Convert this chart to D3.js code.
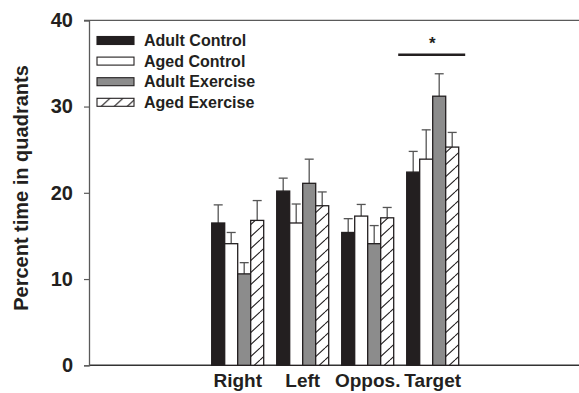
<!DOCTYPE html>
<html>
<head>
<meta charset="utf-8">
<script src="https://cdn.jsdelivr.net/npm/d3@7"></script>
<style>
  html, body { margin: 0; padding: 0; background: #fff; }
  svg { display: block; font-family: "Liberation Sans", Arial, sans-serif; }
</style>
</head>
<body>
<svg id="chart" width="579" height="393"></svg>
<script>
// Time spent in each quadrant, mean and upper error (SEM) per group
const quadrants = ["Right", "Left", "Oppos.", "Target"];
const groups = ["Adult Control", "Aged Control", "Adult Exercise", "Aged Exercise"];
const adultControl   = [16.5, 20.2, 15.4, 22.4];
const agedControl    = [14.1, 16.5, 17.3, 23.9];
const adultExercise  = [10.6, 21.1, 14.1, 31.2];
const agedExercise   = [16.8, 18.5, 17.1, 25.3];
const adultControlErr  = [2.1, 1.5, 1.6, 2.4];
const agedControlErr   = [1.3, 2.2, 1.35, 3.4];
const adultExerciseErr = [1.3, 2.8, 2.1, 2.6];
const agedExerciseErr  = [2.3, 1.6, 1.2, 1.7];
const yTicks = [0, 10, 20, 30, 40];
const sigLabel = "*";
const sigLevel = 36.0;

const means = [adultControl, agedControl, adultExercise, agedExercise];
const errs = [adultControlErr, agedControlErr, adultExerciseErr, agedExerciseErr];

const svg = d3.select("#chart");
const axisColor = "#5a5a5a";
const ink = "#231f20";
const font = "Liberation Sans, Arial, sans-serif";

const x0 = 89, xEnd = 579;
const y = d3.scaleLinear().domain([0, 40]).range([365.3, 20.3]);
const xq = d3.scaleBand().domain(quadrants).range([205.2, 465.2])
  .paddingInner(0.2).paddingOuter(0.1);
const xg = d3.scaleBand().domain(groups).range([0, xq.bandwidth()]);

// diagonal hatch for the last group
const defs = svg.append("defs");
const pat = defs.append("pattern").attr("id", "hatch")
  .attr("patternUnits", "userSpaceOnUse").attr("width", 13).attr("height", 12);
pat.append("rect").attr("width", 13).attr("height", 12).attr("fill", "#fff");
pat.append("path").attr("d", "M-13,12 L0,0 M0,12 L13,0 M13,12 L26,0")
  .attr("stroke", ink).attr("stroke-width", 1.1).attr("fill", "none");

const fills = ["#231f20", "#ffffff", "#8c8c8c", "url(#hatch)"];

// frame: top line and x baseline
svg.append("line").attr("x1", 84).attr("x2", xEnd).attr("y1", y(40)).attr("y2", y(40))
  .attr("stroke", axisColor).attr("stroke-width", 1.3);
svg.append("line").attr("x1", x0).attr("x2", xEnd).attr("y1", y(0)).attr("y2", y(0))
  .attr("stroke", "#333").attr("stroke-width", 1.5);

// y axis
const yAxis = svg.append("g").attr("transform", `translate(${x0},0)`)
  .call(d3.axisLeft(y).tickValues(yTicks).tickSize(5).tickPadding(11).tickFormat(d3.format("d")));
yAxis.select(".domain").attr("stroke", axisColor).attr("stroke-width", 1.3);
yAxis.selectAll(".tick line").attr("stroke", axisColor).attr("stroke-width", 1.2);
yAxis.selectAll(".tick text").attr("font-size", 20).attr("font-weight", "bold")
  .attr("fill", ink).attr("font-family", font);

// y label
svg.append("text")
  .attr("transform", "translate(28,188) rotate(-90)")
  .attr("text-anchor", "middle")
  .attr("font-size", 20).attr("font-weight", "bold").attr("fill", ink)
  .text("Percent time in quadrants");

// x axis labels
const xAxis = svg.append("g").attr("transform", `translate(0,${y(0)})`)
  .call(d3.axisBottom(xq).tickSize(0).tickPadding(8));
xAxis.select(".domain").remove();
xAxis.selectAll(".tick text").attr("font-size", 19).attr("font-weight", "bold")
  .attr("fill", ink).attr("font-family", font);

// bars and error bars
const rows = [];
quadrants.forEach((q, qi) => groups.forEach((g, gi) => {
  rows.push({ q, g, gi, v: means[gi][qi], e: errs[gi][qi] });
}));

const barG = svg.append("g");
barG.selectAll("line.err").data(rows).join("line").attr("class", "err")
  .attr("x1", d => xq(d.q) + xg(d.g) + xg.bandwidth() / 2)
  .attr("x2", d => xq(d.q) + xg(d.g) + xg.bandwidth() / 2)
  .attr("y1", d => y(d.v)).attr("y2", d => y(d.v + d.e))
  .attr("stroke", "#555").attr("stroke-width", 1.3);
barG.selectAll("line.cap").data(rows).join("line").attr("class", "cap")
  .attr("x1", d => xq(d.q) + xg(d.g) + xg.bandwidth() / 2 - 4.5)
  .attr("x2", d => xq(d.q) + xg(d.g) + xg.bandwidth() / 2 + 4.5)
  .attr("y1", d => y(d.v + d.e)).attr("y2", d => y(d.v + d.e))
  .attr("stroke", "#555").attr("stroke-width", 1.3);
barG.selectAll("rect").data(rows).join("rect")
  .attr("x", d => xq(d.q) + xg(d.g))
  .attr("width", xg.bandwidth())
  .attr("y", d => y(d.v))
  .attr("height", d => y(0) - y(d.v))
  .attr("fill", d => fills[d.gi])
  .attr("stroke", ink).attr("stroke-width", 1.3);

// significance marker over the Target group
const tx = xq("Target");
svg.append("line").attr("x1", tx - 8.5).attr("x2", tx + xq.bandwidth() + 6.5)
  .attr("y1", y(sigLevel)).attr("y2", y(sigLevel))
  .attr("stroke", ink).attr("stroke-width", 2.6);
svg.append("text").attr("x", tx + xq.bandwidth() / 2 - 0.5).attr("y", y(sigLevel) - 6)
  .attr("text-anchor", "middle").attr("font-size", 17).attr("font-weight", "bold")
  .attr("fill", ink).text(sigLabel);

// legend
const legend = svg.append("g").attr("transform", "translate(97,36.5)");
groups.forEach((g, i) => {
  const row = legend.append("g").attr("transform", `translate(0,${i * 20.6})`);
  row.append("rect").attr("width", 37).attr("height", 8)
    .attr("fill", fills[i]).attr("stroke", ink).attr("stroke-width", 1.1);
  row.append("text").attr("x", 47).attr("y", 9.5)
    .attr("font-size", 16).attr("font-weight", "bold").attr("fill", ink).text(g);
});
</script>
</body>
</html>
